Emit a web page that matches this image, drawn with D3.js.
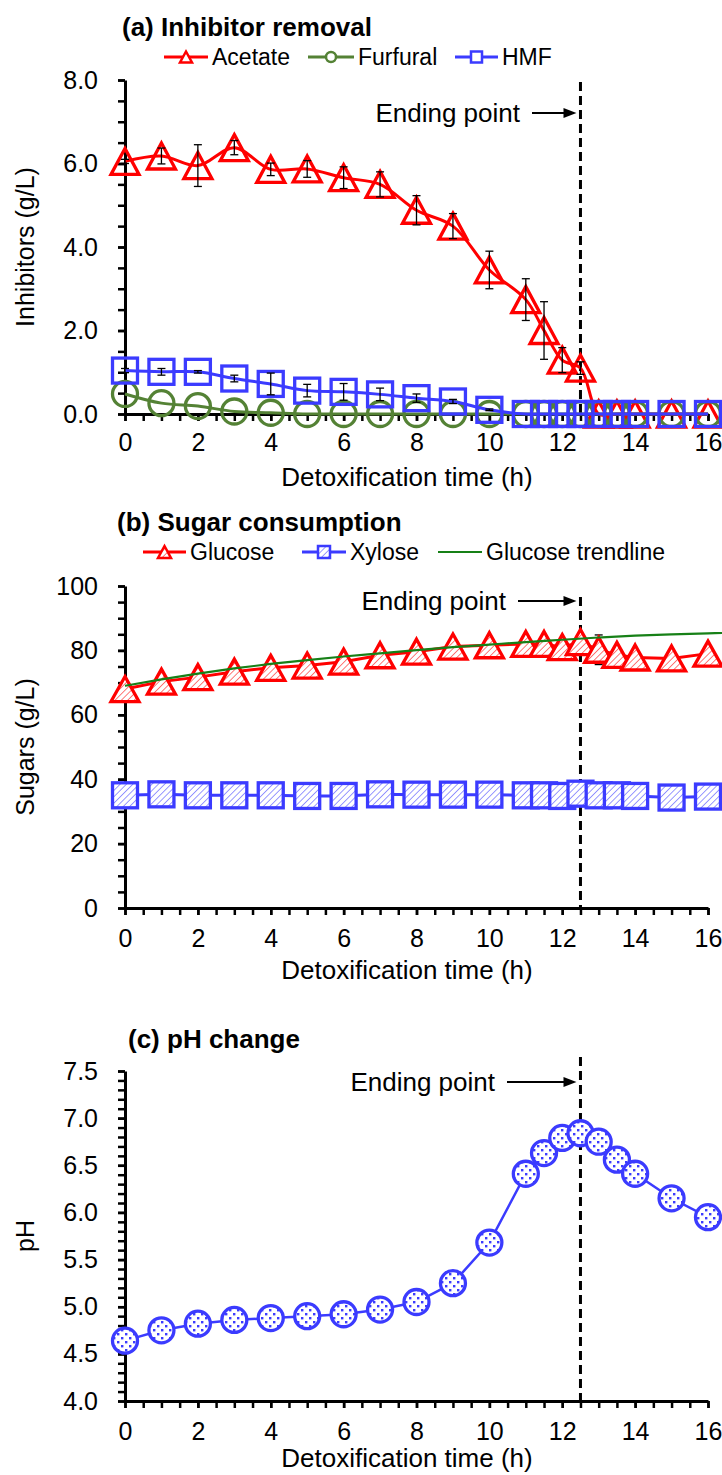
<!DOCTYPE html>
<html>
<head>
<meta charset="utf-8">
<script src="https://cdn.jsdelivr.net/npm/d3@7"></script>
<style>
  body { margin: 0; background: #fff; }
  svg { display: block; }
  text { font-family: "Liberation Sans", Arial, sans-serif; fill: #000; }
</style>
</head>
<body>
<svg id="chart" width="722" height="1475"></svg>
<script>
// ---- Data ----
const timeH = [0, 1, 2, 3, 4, 5, 6, 7, 8, 9, 10, 11, 11.5, 12, 12.5, 13, 13.5, 14, 15, 16];

// (a) inhibitors, g/L
const acetate    = [6.05, 6.18, 5.95, 6.38, 5.86, 5.87, 5.66, 5.50, 4.88, 4.50, 3.45, 2.74, 2.00, 1.29, 1.10, 0, 0, 0, 0, 0];
const acetateErr = [0.05, 0.19, 0.50, 0.17, 0.15, 0.20, 0.26, 0.30, 0.35, 0.30, 0.45, 0.50, 0.69, 0.30, 0.15, 0, 0, 0, 0, 0];
const furfural   = [0.48, 0.26, 0.19, 0.06, 0.03, 0, 0, 0, 0, 0, 0, 0, 0, 0, 0, 0, 0, 0, 0, 0];
const hmf        = [1.04, 1.01, 1.01, 0.85, 0.72, 0.56, 0.53, 0.47, 0.38, 0.30, 0.10, 0, 0, 0, 0, 0, 0, 0, 0, 0];
const hmfErr     = [0.05, 0.08, 0.03, 0.08, 0.26, 0.15, 0.20, 0.15, 0.10, 0.05, 0.02, 0, 0, 0, 0, 0, 0, 0, 0, 0];

// (b) sugars, g/L
const glucose    = [68.0, 70.3, 71.7, 73.4, 74.6, 75.3, 76.5, 78.5, 79.6, 81.2, 81.6, 82.0, 82.0, 81.0, 82.6, 80.2, 78.6, 77.8, 77.5, 79.0];
const glucoseErr = [1.0, 1.0, 1.0, 1.0, 1.0, 1.0, 1.0, 1.0, 1.0, 1.0, 1.2, 1.0, 1.0, 1.5, 1.5, 4.6, 1.5, 1.0, 1.0, 1.0];
const xylose     = [35.0, 35.3, 35.0, 35.0, 35.0, 34.8, 34.8, 35.3, 35.2, 35.2, 35.2, 35.0, 35.0, 34.8, 35.5, 35.0, 35.0, 34.8, 34.3, 34.6];
const trendTime  = [0, 1, 2, 3, 4, 5, 6, 7, 8, 9, 10, 11, 12, 13, 14, 15, 16, 16.4];
const glucoseTrend = [69.0, 71.0, 72.8, 74.4, 75.8, 77.0, 78.1, 79.1, 80.1, 81.0, 81.8, 82.6, 83.3, 84.0, 84.6, 85.0, 85.3, 85.4];

// (c) pH
const pH = [4.64, 4.75, 4.82, 4.86, 4.88, 4.90, 4.92, 4.97, 5.05, 5.25, 5.68, 6.41, 6.63, 6.79, 6.84, 6.75, 6.56, 6.41, 6.15, 5.95];

const endingTime = 12.5;
const xMajorTicks = [0, 2, 4, 6, 8, 10, 12, 14, 16];

// ---- Styles ----
const RED = "#FF0000", GREEN = "#548235", BLUE = "#3B3BFF", TREND = "#178017";

const svg = d3.select("#chart");
const defs = svg.append("defs");

// diagonal hatch fills
function hatch(id, color) {
  const p = defs.append("pattern").attr("id", id)
    .attr("patternUnits", "userSpaceOnUse").attr("width", 4.5).attr("height", 4.5)
    .attr("patternTransform", "rotate(45)");
  p.append("rect").attr("width", 4.5).attr("height", 4.5).attr("fill", "#fff");
  p.append("line").attr("x1", 0).attr("y1", 0).attr("x2", 0).attr("y2", 4.5)
    .attr("stroke", color).attr("stroke-width", 1.4).attr("opacity", 0.75);
}
hatch("hatchRed", RED);
hatch("hatchBlue", BLUE);

// dotted fill
{
  const p = defs.append("pattern").attr("id", "dotsBlue")
    .attr("patternUnits", "userSpaceOnUse").attr("width", 8).attr("height", 8);
  p.append("rect").attr("width", 8).attr("height", 8).attr("fill", "#fff");
  p.append("rect").attr("x", 1).attr("y", 1).attr("width", 2.4).attr("height", 2.4).attr("fill", BLUE);
  p.append("rect").attr("x", 5).attr("y", 5).attr("width", 2.4).attr("height", 2.4).attr("fill", BLUE);
}

const x = d3.scaleLinear().domain([0, 16]).range([125, 708]);

function triPath(cx, cy, w, h) {
  return `M${cx},${cy - h / 2}L${cx + w / 2},${cy + h / 2}L${cx - w / 2},${cy + h / 2}Z`;
}

// Axes for one panel
function drawAxes(y, cfg) {
  const g = svg.append("g");
  g.append("g").attr("transform", `translate(${x(0)},0)`)
    .call(d3.axisLeft(y).tickValues(cfg.yMajor).tickFormat(cfg.yFmt)
      .tickSize(7).tickSizeOuter(0).tickPadding(20));
  g.append("g").attr("transform", `translate(${x(0)},0)`)
    .call(d3.axisLeft(y).tickValues(cfg.yMinor).tickFormat("").tickSize(7).tickSizeOuter(0))
    .select(".domain").remove();
  g.append("g").attr("transform", `translate(0,${y(cfg.yDomain[0])})`)
    .call(d3.axisBottom(x).tickValues(xMajorTicks).tickFormat(d3.format("d"))
      .tickSize(7).tickSizeOuter(0).tickPadding(cfg.xPad));
  g.append("g").attr("transform", `translate(0,${y(cfg.yDomain[0])})`)
    .call(d3.axisBottom(x).tickValues(d3.range(0, 16.01, 0.5)).tickFormat("").tickSize(7).tickSizeOuter(0))
    .select(".domain").remove();
  g.selectAll(".domain").attr("stroke", "#000").attr("stroke-width", 3);
  g.selectAll(".tick line").attr("stroke", "#000").attr("stroke-width", 2.5);
  g.selectAll(".tick text").attr("font-size", 25).attr("font-family", '"Liberation Sans", Arial, sans-serif').attr("fill", "#000");

  // axis titles
  svg.append("text").attr("x", 407).attr("y", y(cfg.yDomain[0]) + cfg.xTitleDy)
    .attr("text-anchor", "middle").attr("font-size", 26).text("Detoxification time (h)");
  const yc = (y.range()[0] + y.range()[1]) / 2;
  svg.append("text").attr("transform", `translate(34,${yc}) rotate(-90)`)
    .attr("text-anchor", "middle").attr("font-size", 25).text(cfg.yTitle);
  // panel title
  svg.append("text").attr("x", cfg.titleX).attr("y", cfg.titleY)
    .attr("font-size", 26).attr("font-weight", "bold").text(cfg.title);
}

function endingMarker(yTop, yBottom, labelY, labelEnd) {
  const ex = x(endingTime);
  svg.append("line").attr("x1", ex).attr("x2", ex).attr("y1", yTop).attr("y2", yBottom)
    .attr("stroke", "#000").attr("stroke-width", 3).attr("stroke-dasharray", "9,5");
  svg.append("text").attr("x", labelEnd).attr("y", labelY + 9).attr("text-anchor", "end")
    .attr("font-size", 26).text("Ending point");
  const ax0 = labelEnd + 12, tip = ex - 4;
  svg.append("line").attr("x1", ax0).attr("x2", tip - 10).attr("y1", labelY).attr("y2", labelY)
    .attr("stroke", "#000").attr("stroke-width", 2);
  svg.append("path").attr("d", `M${tip},${labelY}L${tip - 13},${labelY - 5}L${tip - 13},${labelY + 5}Z`).attr("fill", "#000");
}

function errorBars(y, vals, errs) {
  const g = svg.append("g").attr("stroke", "#000").attr("stroke-width", 1.3);
  timeH.forEach((t, i) => {
    const e = errs[i];
    if (!e) return;
    const cx = x(t), y1 = y(vals[i] - e), y2 = y(vals[i] + e);
    g.append("line").attr("x1", cx).attr("x2", cx).attr("y1", y1).attr("y2", y2);
    g.append("line").attr("x1", cx - 4).attr("x2", cx + 4).attr("y1", y1).attr("y2", y1);
    g.append("line").attr("x1", cx - 4).attr("x2", cx + 4).attr("y1", y2).attr("y2", y2);
  });
}

function seriesLine(y, vals, color, width, curve) {
  const pts = timeH.map((t, i) => [t, vals[i]]);
  svg.append("path").datum(pts)
    .attr("d", d3.line().x(d => x(d[0])).y(d => y(d[1])).curve(curve || d3.curveLinear))
    .attr("fill", "none").attr("stroke", color).attr("stroke-width", width);
}

function triangles(y, vals, color, fill, w, h) {
  svg.append("g").selectAll("path").data(timeH.map((t, i) => [t, vals[i]])).join("path")
    .attr("d", d => triPath(x(d[0]), y(d[1]), w, h))
    .attr("fill", fill).attr("stroke", color).attr("stroke-width", 3.3).attr("stroke-linejoin", "miter");
}
function squares(y, vals, color, fill, s) {
  svg.append("g").selectAll("rect").data(timeH.map((t, i) => [t, vals[i]])).join("rect")
    .attr("x", d => x(d[0]) - s / 2).attr("y", d => y(d[1]) - s / 2)
    .attr("width", s).attr("height", s)
    .attr("fill", fill).attr("stroke", color).attr("stroke-width", 3.3);
}
function circles(y, vals, color, fill, r, sw) {
  svg.append("g").selectAll("circle").data(timeH.map((t, i) => [t, vals[i]])).join("circle")
    .attr("cx", d => x(d[0])).attr("cy", d => y(d[1])).attr("r", r)
    .attr("fill", fill).attr("stroke", color).attr("stroke-width", sw);
}

function legendItem(x0, x1, ly, color, lw, marker, label) {
  svg.append("line").attr("x1", x0).attr("x2", x1).attr("y1", ly).attr("y2", ly)
    .attr("stroke", color).attr("stroke-width", lw);
  const mx = (x0 + x1) / 2;
  if (marker) marker(mx, ly);
  svg.append("text").attr("x", x1 + 4).attr("y", ly + 8).attr("font-size", 23).text(label);
}

// ================= (a) Inhibitor removal =================
{
  const y = d3.scaleLinear().domain([0, 8]).range([414, 80]);
  drawAxes(y, {
    yDomain: [0, 8], yMajor: [0, 2, 4, 6, 8], yMinor: d3.range(0, 8.01, 0.5),
    yFmt: d3.format(".1f"), xPad: 12, xTitleDy: 72, yTitle: "Inhibitors (g/L)",
    title: "(a) Inhibitor removal", titleX: 122, titleY: 36
  });
  endingMarker(82, 414, 113, 520);

  const smooth = d3.curveCatmullRom.alpha(0.5);
  seriesLine(y, acetate, RED, 3, smooth);
  triangles(y, acetate, RED, "none", 28, 26);
  seriesLine(y, furfural, GREEN, 3, smooth);
  circles(y, furfural, GREEN, "none", 12.5, 3.3);
  seriesLine(y, hmf, BLUE, 3, smooth);
  squares(y, hmf, BLUE, "none", 25);
  errorBars(y, acetate, acetateErr);
  errorBars(y, hmf, hmfErr);

  const ly = 57;
  legendItem(164, 208, ly, RED, 3, (mx, my) =>
    svg.append("path").attr("d", triPath(mx, my, 12, 11)).attr("fill", "#fff").attr("stroke", RED).attr("stroke-width", 2.5), "Acetate");
  legendItem(308, 354, ly, GREEN, 3, (mx, my) =>
    svg.append("circle").attr("cx", mx).attr("cy", my).attr("r", 5).attr("fill", "#fff").attr("stroke", GREEN).attr("stroke-width", 2.5), "Furfural");
  legendItem(455, 498, ly, BLUE, 3, (mx, my) =>
    svg.append("rect").attr("x", mx - 5.5).attr("y", my - 5.5).attr("width", 11).attr("height", 11).attr("fill", "#fff").attr("stroke", BLUE).attr("stroke-width", 2.5), "HMF");
}

// ================= (b) Sugar consumption =================
{
  const y = d3.scaleLinear().domain([0, 100]).range([908, 586]);
  drawAxes(y, {
    yDomain: [0, 100], yMajor: [0, 20, 40, 60, 80, 100], yMinor: d3.range(0, 100.1, 5),
    yFmt: d3.format("d"), xPad: 14, xTitleDy: 71, yTitle: "Sugars (g/L)",
    title: "(b) Sugar consumption", titleX: 117, titleY: 531
  });
  endingMarker(597, 908, 601, 506);

  seriesLine(y, glucose, RED, 3);
  errorBars(y, glucose, glucoseErr);
  triangles(y, glucose, RED, "url(#hatchRed)", 28, 25);
  seriesLine(y, xylose, BLUE, 3);
  squares(y, xylose, BLUE, "url(#hatchBlue)", 25);

  svg.append("path").datum(trendTime.map((t, i) => [t, glucoseTrend[i]]))
    .attr("d", d3.line().x(d => x(d[0])).y(d => y(d[1])).curve(d3.curveMonotoneX))
    .attr("fill", "none").attr("stroke", TREND).attr("stroke-width", 2.2);

  const ly = 552;
  legendItem(143, 186, ly, RED, 3, (mx, my) =>
    svg.append("path").attr("d", triPath(mx, my, 13, 12)).attr("fill", "url(#hatchRed)").attr("stroke", RED).attr("stroke-width", 2.5), "Glucose");
  legendItem(302, 346, ly, BLUE, 3, (mx, my) =>
    svg.append("rect").attr("x", mx - 6).attr("y", my - 6).attr("width", 12).attr("height", 12).attr("fill", "url(#hatchBlue)").attr("stroke", BLUE).attr("stroke-width", 2.5), "Xylose");
  legendItem(438, 482, ly, TREND, 2.2, null, "Glucose trendline");
}

// ================= (c) pH change =================
{
  const y = d3.scaleLinear().domain([4, 7.5]).range([1401, 1071]);
  drawAxes(y, {
    yDomain: [4, 7.5], yMajor: d3.range(4, 7.51, 0.5), yMinor: d3.range(4, 7.51, 0.1),
    yFmt: d3.format(".1f"), xPad: 14, xTitleDy: 66, yTitle: "pH",
    title: "(c) pH change", titleX: 128, titleY: 1048
  });
  endingMarker(1057, 1401, 1082, 495);

  seriesLine(y, pH, BLUE, 2.5);
  circles(y, pH, BLUE, "url(#dotsBlue)", 12.5, 3.3);
}
</script>
</body>
</html>
